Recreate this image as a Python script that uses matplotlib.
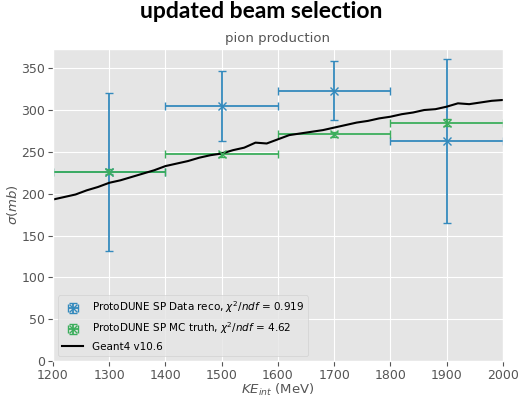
import numpy as np
import matplotlib
matplotlib.use("Agg")
import matplotlib.pyplot as plt

plt.style.use("ggplot")

# binned cross section, reco data and MC truth
bin_centers = [1300, 1500, 1700, 1900]
bin_halfwidth = [100, 100, 100, 100]
data_xs = [226, 305, 323, 263]
data_err = [94, 42, 35, 98]
mc_xs = [226, 247, 271, 285]
mc_err = [3, 3, 3, 4]

# Geant4 prediction
g4_ke = [1200, 1220, 1240, 1260, 1280, 1300, 1320, 1340, 1360, 1380,
         1400, 1420, 1440, 1460, 1480, 1500, 1520, 1540, 1560, 1580,
         1600, 1620, 1640, 1660, 1680, 1700, 1720, 1740, 1760, 1780,
         1800, 1820, 1840, 1860, 1880, 1900, 1920, 1940, 1960, 1980, 2000]
g4_xs = [193, 196, 199, 204, 208, 213, 216, 220, 224, 228,
         233, 236, 239, 243, 246, 248, 252, 255, 261, 260,
         265, 270, 272, 274, 276, 279, 282, 285, 287, 290,
         292, 295, 297, 300, 301, 304, 308, 307, 309, 311, 312]

fig = plt.figure(figsize=(5.22, 3.96), dpi=100)
ax = fig.add_axes([0.1015, 0.0884, 0.862, 0.788])

h1 = ax.errorbar(bin_centers, data_xs, xerr=bin_halfwidth, yerr=data_err, fmt="x",
                 color="#348ABD", capsize=3, elinewidth=1.3, markersize=6,
                 label="ProtoDUNE SP Data reco, $\\chi^2/ndf$ = 0.919")
h2 = ax.errorbar(bin_centers, mc_xs, xerr=bin_halfwidth, yerr=mc_err, fmt="x",
                 color="#3cae5c", capsize=3, elinewidth=1.3, markersize=6,
                 label="ProtoDUNE SP MC truth, $\\chi^2/ndf$ = 4.62")
h3, = ax.plot(g4_ke, g4_xs, color="black", lw=1.5, label="Geant4 v10.6")

ax.set_xlim(1200, 2000)
ax.set_ylim(0, 373)
ax.set_xticks(np.arange(1200, 2001, 100))
ax.set_yticks(np.arange(0, 351, 50))
ax.tick_params(labelsize=9, pad=2)
ax.set_xlabel("$KE_{int}$ (MeV)", fontsize=9.5, color="#555555", labelpad=0)
ax.set_ylabel("$\\sigma (mb)$", fontsize=9.5, color="#555555", labelpad=1)
ax.set_title("pion production", fontsize=9.5, color="#555555", pad=5)
fig.suptitle("updated beam selection", fontsize=16.5, fontweight="bold",
             family="Lato", y=0.997)
ax.legend([h1, h2, h3], [h1.get_label(), h2.get_label(), h3.get_label()],
          loc="lower left", fontsize=7.5)

fig.savefig("out.png", dpi=100)
